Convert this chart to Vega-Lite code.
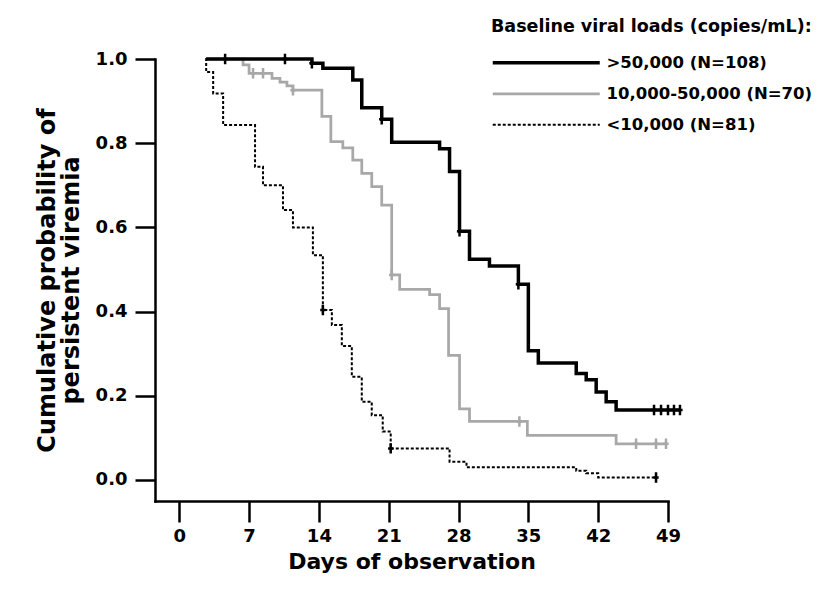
{
  "$schema": "https://vega.github.io/schema/vega-lite/v6.json",
  "width": 513,
  "height": 442,
  "autosize": {"type": "none"},
  "padding": {"left": 155, "top": 59, "right": 150, "bottom": 88},
  "background": "white",
  "config": {
    "view": {"stroke": null},
    "font": "DejaVu Sans",
    "axis": {"grid": false, "domainColor": "#000000", "tickColor": "#000000", "domainWidth": 2.5, "tickWidth": 2.5, "labelColor": "#000000", "titleColor": "#000000", "labelFont": "DejaVu Sans", "labelFontWeight": "bold", "labelFontSize": 18, "titleFont": "DejaVu Sans", "titleFontWeight": "bold", "titleFontSize": 22, "domainCap": "square"}
  },
  "datasets": {
    "curves": [
      {"group": "10,000-50,000 (N=70)", "day": 2.7, "S": 1.0},
      {"group": "10,000-50,000 (N=70)", "day": 6.4, "S": 0.986},
      {"group": "10,000-50,000 (N=70)", "day": 7.0, "S": 0.966},
      {"group": "10,000-50,000 (N=70)", "day": 9.3, "S": 0.954},
      {"group": "10,000-50,000 (N=70)", "day": 10.1, "S": 0.945},
      {"group": "10,000-50,000 (N=70)", "day": 10.8, "S": 0.936},
      {"group": "10,000-50,000 (N=70)", "day": 11.4, "S": 0.926},
      {"group": "10,000-50,000 (N=70)", "day": 14.3, "S": 0.864},
      {"group": "10,000-50,000 (N=70)", "day": 15.2, "S": 0.804},
      {"group": "10,000-50,000 (N=70)", "day": 16.4, "S": 0.789},
      {"group": "10,000-50,000 (N=70)", "day": 17.4, "S": 0.760},
      {"group": "10,000-50,000 (N=70)", "day": 18.3, "S": 0.728},
      {"group": "10,000-50,000 (N=70)", "day": 19.3, "S": 0.697},
      {"group": "10,000-50,000 (N=70)", "day": 20.3, "S": 0.653},
      {"group": "10,000-50,000 (N=70)", "day": 21.3, "S": 0.487},
      {"group": "10,000-50,000 (N=70)", "day": 22.1, "S": 0.453},
      {"group": "10,000-50,000 (N=70)", "day": 25.1, "S": 0.440},
      {"group": "10,000-50,000 (N=70)", "day": 26.1, "S": 0.407},
      {"group": "10,000-50,000 (N=70)", "day": 27.0, "S": 0.296},
      {"group": "10,000-50,000 (N=70)", "day": 28.1, "S": 0.169},
      {"group": "10,000-50,000 (N=70)", "day": 29.1, "S": 0.139},
      {"group": "10,000-50,000 (N=70)", "day": 34.9, "S": 0.106},
      {"group": "10,000-50,000 (N=70)", "day": 43.8, "S": 0.086},
      {"group": "10,000-50,000 (N=70)", "day": 48.8, "S": 0.086},
      {"group": "<10,000 (N=81)", "day": 2.6, "S": 1.0},
      {"group": "<10,000 (N=81)", "day": 2.7, "S": 0.969},
      {"group": "<10,000 (N=81)", "day": 3.4, "S": 0.918},
      {"group": "<10,000 (N=81)", "day": 4.4, "S": 0.843},
      {"group": "<10,000 (N=81)", "day": 7.6, "S": 0.744},
      {"group": "<10,000 (N=81)", "day": 8.4, "S": 0.700},
      {"group": "<10,000 (N=81)", "day": 10.4, "S": 0.641},
      {"group": "<10,000 (N=81)", "day": 11.4, "S": 0.600},
      {"group": "<10,000 (N=81)", "day": 13.4, "S": 0.534},
      {"group": "<10,000 (N=81)", "day": 14.4, "S": 0.404},
      {"group": "<10,000 (N=81)", "day": 15.3, "S": 0.368},
      {"group": "<10,000 (N=81)", "day": 16.3, "S": 0.318},
      {"group": "<10,000 (N=81)", "day": 17.3, "S": 0.245},
      {"group": "<10,000 (N=81)", "day": 18.3, "S": 0.186},
      {"group": "<10,000 (N=81)", "day": 19.3, "S": 0.154},
      {"group": "<10,000 (N=81)", "day": 20.4, "S": 0.115},
      {"group": "<10,000 (N=81)", "day": 21.2, "S": 0.075},
      {"group": "<10,000 (N=81)", "day": 27.1, "S": 0.043},
      {"group": "<10,000 (N=81)", "day": 28.8, "S": 0.030},
      {"group": "<10,000 (N=81)", "day": 39.8, "S": 0.022},
      {"group": "<10,000 (N=81)", "day": 40.8, "S": 0.016},
      {"group": "<10,000 (N=81)", "day": 42.0, "S": 0.006},
      {"group": "<10,000 (N=81)", "day": 47.8, "S": 0.006},
      {"group": ">50,000 (N=108)", "day": 2.7, "S": 1.0},
      {"group": ">50,000 (N=108)", "day": 13.3, "S": 0.990},
      {"group": ">50,000 (N=108)", "day": 14.4, "S": 0.978},
      {"group": ">50,000 (N=108)", "day": 17.4, "S": 0.950},
      {"group": ">50,000 (N=108)", "day": 18.3, "S": 0.884},
      {"group": ">50,000 (N=108)", "day": 20.3, "S": 0.857},
      {"group": ">50,000 (N=108)", "day": 21.3, "S": 0.802},
      {"group": ">50,000 (N=108)", "day": 26.1, "S": 0.787},
      {"group": ">50,000 (N=108)", "day": 27.1, "S": 0.733},
      {"group": ">50,000 (N=108)", "day": 28.1, "S": 0.591},
      {"group": ">50,000 (N=108)", "day": 29.1, "S": 0.524},
      {"group": ">50,000 (N=108)", "day": 31.1, "S": 0.508},
      {"group": ">50,000 (N=108)", "day": 34.0, "S": 0.465},
      {"group": ">50,000 (N=108)", "day": 35.0, "S": 0.307},
      {"group": ">50,000 (N=108)", "day": 36.0, "S": 0.278},
      {"group": ">50,000 (N=108)", "day": 39.8, "S": 0.253},
      {"group": ">50,000 (N=108)", "day": 40.8, "S": 0.238},
      {"group": ">50,000 (N=108)", "day": 41.8, "S": 0.209},
      {"group": ">50,000 (N=108)", "day": 42.8, "S": 0.186},
      {"group": ">50,000 (N=108)", "day": 43.8, "S": 0.166},
      {"group": ">50,000 (N=108)", "day": 50.2, "S": 0.166}
    ],
    "censors": [
      {"group": ">50,000 (N=108)", "day": 4.6, "S": 1.0},
      {"group": ">50,000 (N=108)", "day": 10.6, "S": 1.0},
      {"group": ">50,000 (N=108)", "day": 13.3, "S": 0.990},
      {"group": ">50,000 (N=108)", "day": 20.3, "S": 0.857},
      {"group": ">50,000 (N=108)", "day": 28.1, "S": 0.591},
      {"group": ">50,000 (N=108)", "day": 34.0, "S": 0.465},
      {"group": ">50,000 (N=108)", "day": 47.6, "S": 0.166},
      {"group": ">50,000 (N=108)", "day": 48.3, "S": 0.166},
      {"group": ">50,000 (N=108)", "day": 49.0, "S": 0.166},
      {"group": ">50,000 (N=108)", "day": 49.6, "S": 0.166},
      {"group": ">50,000 (N=108)", "day": 50.2, "S": 0.166},
      {"group": "10,000-50,000 (N=70)", "day": 7.4, "S": 0.966},
      {"group": "10,000-50,000 (N=70)", "day": 8.4, "S": 0.966},
      {"group": "10,000-50,000 (N=70)", "day": 11.4, "S": 0.926},
      {"group": "10,000-50,000 (N=70)", "day": 21.3, "S": 0.487},
      {"group": "10,000-50,000 (N=70)", "day": 34.1, "S": 0.139},
      {"group": "10,000-50,000 (N=70)", "day": 45.8, "S": 0.086},
      {"group": "10,000-50,000 (N=70)", "day": 47.8, "S": 0.086},
      {"group": "10,000-50,000 (N=70)", "day": 48.8, "S": 0.086},
      {"group": "<10,000 (N=81)", "day": 14.4, "S": 0.404},
      {"group": "<10,000 (N=81)", "day": 21.2, "S": 0.075},
      {"group": "<10,000 (N=81)", "day": 47.8, "S": 0.006}
    ]
  },
  "encoding": {
    "x": {
      "field": "day", "type": "quantitative",
      "scale": {"domain": [-2.43, 49], "nice": false, "zero": false},
      "axis": {"title": "Days of observation", "values": [0, 7, 14, 21, 28, 35, 42, 49], "tickSize": 21, "labelPadding": 5, "titlePadding": 6, "labelFlush": false}
    },
    "y": {
      "field": "S", "type": "quantitative",
      "scale": {"domain": [-0.05, 1.0], "nice": false, "zero": false},
      "axis": {"title": ["Cumulative probability of", "persistent viremia"], "values": [0, 0.2, 0.4, 0.6, 0.8, 1.0], "format": ".1f", "tickSize": 20, "labelPadding": 8, "titlePadding": 12, "labelFlush": false, "titleFontSize": 24, "titleLineHeight": 24}
    }
  },
  "layer": [
    {
      "data": {"name": "curves"},
      "mark": {"type": "line", "interpolate": "step-after", "strokeCap": "butt"},
      "encoding": {
        "color": {
          "field": "group", "type": "nominal",
          "scale": {"domain": [">50,000 (N=108)", "10,000-50,000 (N=70)", "<10,000 (N=81)"], "range": ["#000000", "#a8a8a8", "#000000"]},
          "legend": {
            "title": "Baseline viral loads (copies/mL):",
            "orient": "none", "legendX": 336, "legendY": -41,
            "symbolType": "M-10.7,0H10.7", "symbolSize": 100, "symbolOffset": 47,
            "titleFont": "DejaVu Sans", "titleFontWeight": "bold", "titleFontSize": 17.5, "titleColor": "#000000", "titlePadding": 19, "titleLimit": 600,
            "labelFont": "DejaVu Sans", "labelFontWeight": "bold", "labelFontSize": 16.5, "labelColor": "#000000", "labelOffset": 52, "labelLimit": 400,
            "rowPadding": 14, "padding": 0
          }
        },
        "strokeDash": {
          "field": "group", "type": "nominal",
          "scale": {"domain": [">50,000 (N=108)", "10,000-50,000 (N=70)", "<10,000 (N=81)"], "range": [[1, 0], [1, 0], [3, 2]]}
        },
        "strokeWidth": {
          "field": "group", "type": "nominal",
          "scale": {"domain": [">50,000 (N=108)", "10,000-50,000 (N=70)", "<10,000 (N=81)"], "range": [3.5, 2, 2.8]}
        }
      }
    },
    {
      "data": {"name": "censors"},
      "mark": {"type": "point", "shape": "M0,-1V1M-0.5,0H0.5", "filled": false, "size": 110, "strokeWidth": 2.5, "opacity": 1},
      "encoding": {
        "stroke": {
          "field": "group", "type": "nominal",
          "scale": {"domain": [">50,000 (N=108)", "10,000-50,000 (N=70)", "<10,000 (N=81)"], "range": ["#000000", "#a8a8a8", "#000000"]},
          "legend": null
        }
      }
    }
  ]
}
